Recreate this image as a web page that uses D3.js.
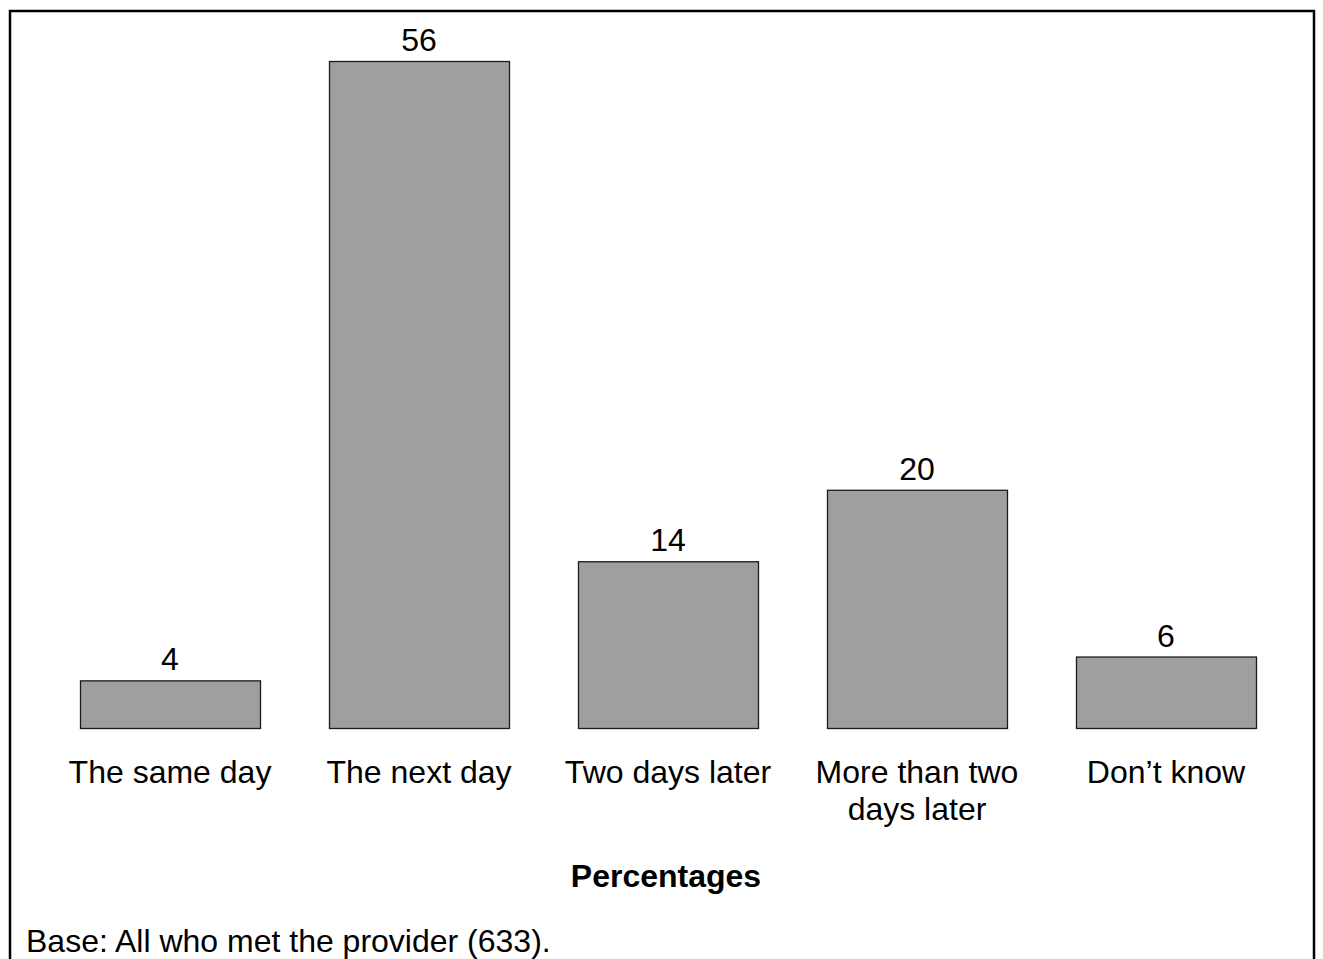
<!DOCTYPE html>
<html><head><meta charset="utf-8">
<script src="https://cdn.jsdelivr.net/npm/d3@7"></script>
<style>body{margin:0;background:#fff}svg{display:block}text{font-family:"Liberation Sans",Arial,sans-serif;fill:#000}</style>
</head><body>
<script>
const categories = ["The same day", "The next day", "Two days later", "More than two|days later", "Don\u2019t know"];
const values = [4, 56, 14, 20, 6];
const axisTitle = "Percentages";
const baseNote = "Base: All who met the provider (633).";

const W = 1323, H = 959;
const svg = d3.select("body").append("svg").attr("width", W).attr("height", H);

svg.append("path").attr("d", `M10,${H+5}V11H1314V${H+5}`).attr("fill","none").attr("stroke","#000").attr("stroke-width",2.5);

const p = 69/249;
const x = d3.scaleBand().domain(categories).range([45.5, 1290.5]).paddingInner(p).paddingOuter(p/2);
const y = d3.scaleLinear().domain([0, 56]).range([728, 61]);

svg.selectAll("rect.bar").data(values).enter().append("rect")
  .attr("x", (d,i)=>x(categories[i])+0.5).attr("width", x.bandwidth())
  .attr("y", d=>y(d)+0.5).attr("height", d=>y(0)-y(d))
  .attr("fill","#9e9fa1").attr("stroke","#1a1a1a").attr("stroke-width",1.3);

svg.selectAll("text.val").data(values).enter().append("text")
  .attr("x",(d,i)=>x(categories[i])+x.bandwidth()/2).attr("y", d=>y(d)-10)
  .attr("text-anchor","middle").attr("font-size",32).text(d=>d);

const lab = svg.selectAll("text.cat").data(categories).enter().append("text")
  .attr("x", d=>x(d)+x.bandwidth()/2).attr("y", 783).attr("text-anchor","middle").attr("font-size",32);
lab.each(function(d){
  const t = d3.select(this);
  d.split("|").forEach((s,i)=>t.append("tspan").attr("x", x(d)+x.bandwidth()/2).attr("dy", i?37:0).text(s));
});

svg.append("text").attr("x", 666).attr("y", 887).attr("text-anchor","middle").attr("font-size",32).attr("font-weight","bold").text(axisTitle);
svg.append("text").attr("x", 26).attr("y", 952).attr("font-size",32).text(baseNote);
</script>
</body></html>
